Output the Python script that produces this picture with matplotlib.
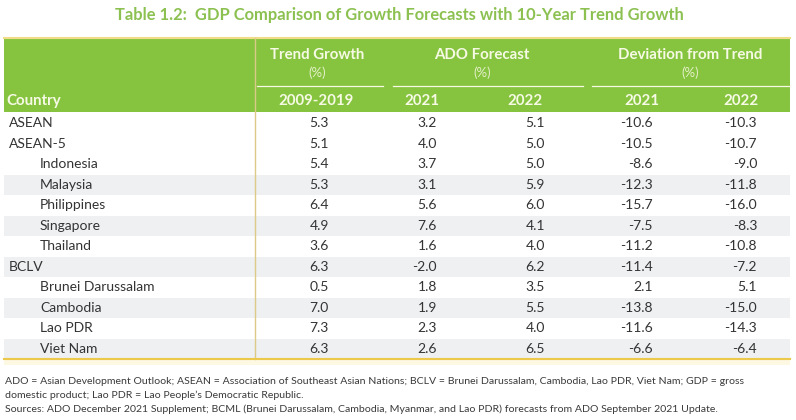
import matplotlib
matplotlib.use('Agg')
import matplotlib.pyplot as plt
from matplotlib.patches import Rectangle

plt.rcParams['font.family'] = ['Lato', 'DejaVu Sans']

# table data
countries = ['ASEAN', 'ASEAN-5', 'Indonesia', 'Malaysia', 'Philippines', 'Singapore',
             'Thailand', 'BCLV', 'Brunei Darussalam', 'Cambodia', 'Lao PDR', 'Viet Nam']
indented = [False, False, True, True, True, True, True, False, True, True, True, True]
trend_0919 = [5.3, 5.1, 5.4, 5.3, 6.4, 4.9, 3.6, 6.3, 0.5, 7.0, 7.3, 6.3]
ado_2021 = [3.2, 4.0, 3.7, 3.1, 5.6, 7.6, 1.6, -2.0, 1.8, 1.9, 2.3, 2.6]
ado_2022 = [5.1, 5.0, 5.0, 5.9, 6.0, 4.1, 4.0, 6.2, 3.5, 5.5, 4.0, 6.5]
dev_2021 = [-10.6, -10.5, -8.6, -12.3, -15.7, -7.5, -11.2, -11.4, 2.1, -13.8, -11.6, -6.6]
dev_2022 = [-10.3, -10.7, -9.0, -11.8, -16.0, -8.3, -10.8, -7.2, 5.1, -15.0, -14.3, -6.4]

title = 'Table 1.2:  GDP Comparison of Growth Forecasts with 10-Year Trend Growth'
notes = [
    'ADO = Asian Development Outlook; ASEAN = Association of Southeast Asian Nations; BCLV = Brunei Darussalam, Cambodia, Lao PDR, Viet Nam; GDP = gross',
    'domestic product; Lao PDR = Lao People\u2019s Democratic Republic.',
    'Sources: ADO December 2021 Supplement; BCML (Brunei Darussalam, Cambodia, Myanmar, and Lao PDR) forecasts from ADO September 2021 Update.',
]

GREEN = '#86c440'
HEAD_TXT = '#f6fae4'
TITLE_GREEN = '#8cc152'
BODY_TXT = '#333333'
STRIPE = '#eef0f2'
GOLD = '#ecc94b'

W, H = 796, 420
fig = plt.figure(figsize=(W / 100, H / 100), dpi=100)
ax = fig.add_axes([0, 0, 1, 1])
ax.set_xlim(0, W)
ax.set_ylim(H, 0)
ax.axis('off')

left, right = 4, 790
head_top, head_bot = 38, 112
row_h = 20.5
split_x = 255

ax.text(399, 15, title, ha='center', va='center', fontsize=11.9,
        fontweight='bold', color=TITLE_GREEN)

# header block
ax.add_patch(Rectangle((left, head_top), right - left, head_bot - head_top,
                       facecolor=GREEN, edgecolor='none'))
ax.plot([left, right], [head_top, head_top], color='#f2dc8a', lw=1.5)

groups = [('Trend Growth', 317, 257, 383),
          ('ADO Forecast', 482, 393, 583),
          ('Deviation from Trend', 690, 592, 790)]
for name, cx, x0, x1 in groups:
    ax.text(cx, 55, name, ha='center', va='center', fontsize=10.8,
            fontweight='bold', color=HEAD_TXT)
    ax.text(cx, 73, '(%)', ha='center', va='center', fontsize=9.5,
            color='#e4f0c8')
    ax.plot([x0, x1], [86, 86], color=HEAD_TXT, lw=0.9)

ax.text(6, 101, 'Country', ha='left', va='center', fontsize=10.8,
        fontweight='bold', color=HEAD_TXT)
years = [('2009-2019', 316), ('2021', 422), ('2022', 525), ('2021', 642), ('2022', 741)]
for lab, cx in years:
    ax.text(cx, 101, lab, ha='center', va='center', fontsize=10.8,
            fontweight='bold', color=HEAD_TXT)

# body rows
body_top = head_bot + 1
for i, c in enumerate(countries):
    y0 = body_top + i * row_h
    yc = y0 + row_h / 2
    if i >= 3 and i % 2 == 1:
        ax.add_patch(Rectangle((left, y0), right - left, row_h,
                               facecolor=STRIPE, edgecolor='none'))
    ax.text(40 if indented[i] else 9, yc, c, ha='left', va='center',
            fontsize=10, color=BODY_TXT)
    ax.text(319, yc, f'{trend_0919[i]:.1f}', ha='center', va='center',
            fontsize=10, color=BODY_TXT)
    ax.text(437, yc, f'{ado_2021[i]:.1f}', ha='right', va='center',
            fontsize=10, color=BODY_TXT)
    ax.text(545, yc, f'{ado_2022[i]:.1f}', ha='right', va='center',
            fontsize=10, color=BODY_TXT)
    ax.text(653, yc, f'{dev_2021[i]:.1f}', ha='right', va='center',
            fontsize=10, color=BODY_TXT)
    ax.text(757, yc, f'{dev_2022[i]:.1f}', ha='right', va='center',
            fontsize=10, color=BODY_TXT)

body_bot = body_top + len(countries) * row_h
ax.plot([split_x, split_x], [head_top, body_bot], color='#dccb86', lw=1)
ax.plot([left, right], [body_bot, body_bot], color=GOLD, lw=1.5)
ax.add_patch(Rectangle((left, body_bot + 1), right - left, 5,
                       facecolor='#fdf8e2', edgecolor='none'))

for k, line in enumerate(notes):
    ax.text(5, 381 + k * 14, line, ha='left', va='center', fontsize=7.55,
            color='#3a3a3a')

fig.savefig('out.png', dpi=100)
